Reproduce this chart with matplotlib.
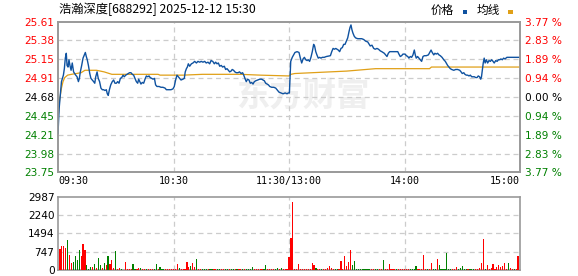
import matplotlib
matplotlib.use("Agg")
import matplotlib.pyplot as plt
import matplotlib.patches as mpatches

plt.rcParams["font.family"] = ["Noto Sans CJK SC", "DejaVu Sans"]

TITLE = "浩瀚深度[688292] 2025-12-12 15:30"
PREV_CLOSE = 24.68
PRICE_TICKS = [25.61, 25.38, 25.15, 24.91, 24.68, 24.45, 24.21, 23.98, 23.75]
PCT_LABELS = ["3.77 %", "2.83 %", "1.89 %", "0.94 %", "0.00 %", "0.94 %", "1.89 %", "2.83 %", "3.77 %"]
TIME_LABELS = ["09:30", "10:30", "11:30/13:00", "14:00", "15:00"]
TIME_POS = [0, 60, 120, 180, 240]
VOL_TICKS = [0, 747, 1494, 2240, 2987]

# price line (minute since open, price)
price_t = [0.0, 0.6, 1.8, 2.8, 3.3, 3.8, 4.3, 4.7, 5.2, 5.7, 6.2, 6.8, 7.4, 8.1, 9.2, 9.9,
           10.6, 11.1, 11.6, 12.3, 13.0, 13.7, 14.2, 14.7, 15.2, 15.8, 16.5, 17.1, 17.8, 18.5,
           19.1, 19.6, 20.3, 20.9, 21.6, 22.3, 23.0, 23.7, 24.4, 25.1, 25.6, 26.1, 26.7, 27.4,
           28.2, 28.9, 29.6, 30.3, 31.0, 31.7, 32.4, 33.1, 33.8, 34.4, 35.2, 35.8, 36.5, 37.2,
           37.9, 38.6, 39.3, 39.8, 40.7, 41.4, 41.9, 42.5, 43.1, 43.8, 44.5, 45.2, 45.9, 46.6,
           47.3, 47.9, 48.7, 49.4, 50.1, 50.7, 51.4, 52.5, 53.5, 54.5, 55.6, 56.3, 57.0, 57.7,
           58.7, 59.7, 60.4, 61.1, 61.8, 62.5, 63.2, 63.9, 64.9, 65.6, 66.1, 66.7, 67.2, 67.7,
           68.4, 69.3, 70.1, 71.0, 71.9, 72.7, 73.6, 74.4, 75.3, 76.2, 77.0, 77.9, 78.8, 79.5,
           80.4, 81.2, 81.9, 82.6, 83.3, 84.0, 84.8, 85.5, 86.4, 87.1, 87.8, 88.5, 89.2, 89.9,
           90.5, 91.2, 91.9, 92.6, 93.5, 94.3, 95.1, 95.9, 96.5, 97.1, 97.8, 98.5, 99.2, 99.9,
           100.6, 101.3, 102.0, 102.7, 103.7, 104.8, 105.8, 106.5, 107.2, 107.9, 108.6, 109.3,
           110.0, 111.0, 112.1, 113.1, 113.8, 114.8, 115.8, 116.9, 118.0, 119.0, 119.6, 120.2,
           120.9, 121.7, 122.4, 123.1, 124.2, 125.2, 125.9, 126.6, 127.3, 128.0, 128.7, 129.4,
           130.0, 130.7, 131.4, 132.1, 132.8, 133.3, 133.9, 134.5, 135.2, 135.9, 136.6, 137.3,
           138.3, 139.4, 140.4, 141.5, 142.2, 142.9, 143.6, 144.3, 144.9, 145.6, 146.3, 147.0,
           147.7, 148.4, 149.1, 149.8, 150.5, 151.2, 151.7, 152.2, 152.7, 153.2, 153.9, 154.6,
           155.7, 156.7, 157.8, 158.8, 159.8, 160.9, 161.4, 162.2, 163.1, 164.0, 164.8, 165.7,
           166.5, 167.4, 168.2, 168.8, 169.5, 170.2, 170.9, 171.6, 172.3, 174.4, 176.5, 177.1,
           177.8, 178.5, 179.2, 180.3, 181.0, 181.7, 182.3, 183.0, 183.7, 184.4, 185.1, 185.6,
           186.1, 186.8, 187.5, 188.2, 188.9, 189.6, 190.3, 191.3, 192.4, 193.1, 193.8, 194.4,
           195.2, 195.8, 196.5, 197.2, 197.9, 198.6, 199.5, 200.4, 201.2, 201.7, 202.4, 203.1,
           203.8, 204.5, 205.6, 206.6, 207.6, 208.7, 209.4, 210.0, 210.8, 211.4, 212.1, 212.8,
           213.5, 214.2, 214.9, 215.6, 216.3, 217.0, 217.7, 218.3, 219.0, 219.6, 220.0, 220.4,
           220.9, 221.4, 221.9, 222.5, 223.2, 223.9, 224.6, 225.3, 226.0, 226.6, 227.4, 228.1,
           228.8, 229.5, 230.1, 230.8, 231.5, 232.2, 233.2, 235.0, 237.4, 239.5]
price_v = [24.23, 24.54, 24.87, 24.95, 25.03, 25.16, 25.22, 25.07, 25.05, 25.14, 25.07, 25.01, 25.10, 24.99, 24.95, 24.93,
           24.87, 24.91, 24.99, 25.07, 25.16, 25.20, 25.23, 25.18, 25.14, 25.07, 24.97, 24.91, 24.89, 24.87,
           24.85, 24.93, 24.99, 24.91, 24.87, 24.79, 24.77, 24.77, 24.76, 24.77, 24.72, 24.70, 24.77, 24.83,
           24.87, 24.89, 24.85, 24.85, 24.87, 24.85, 24.91, 24.92, 24.95, 24.93, 24.95, 24.96, 24.97, 24.98,
           24.98, 24.96, 24.95, 24.92, 24.87, 24.85, 24.90, 24.87, 24.84, 24.86, 24.85, 24.90, 24.94, 24.93,
           24.94, 24.92, 24.91, 24.90, 24.91, 24.83, 24.81, 24.81, 24.80, 24.80, 24.79, 24.77, 24.77, 24.77,
           24.77, 24.78, 24.81, 24.89, 24.95, 24.93, 24.91, 24.89, 24.90, 24.91, 24.99, 25.03, 25.05, 25.09,
           25.06, 25.09, 25.10, 25.12, 25.10, 25.12, 25.11, 25.12, 25.11, 25.12, 25.10, 25.11, 25.09, 25.13,
           25.12, 25.09, 25.11, 25.09, 25.10, 25.06, 25.07, 25.05, 25.06, 25.02, 25.03, 25.01, 24.99, 25.00,
           25.02, 25.01, 24.99, 24.98, 24.98, 24.99, 24.97, 24.98, 24.95, 24.91, 24.87, 24.90, 24.89, 24.85,
           24.86, 24.84, 24.87, 24.88, 24.89, 24.90, 24.90, 24.89, 24.88, 24.85, 24.84, 24.83,
           24.81, 24.80, 24.80, 24.79, 24.77, 24.74, 24.73, 24.72, 24.73, 24.72, 24.73, 24.73,
           25.12, 25.17, 25.20, 25.23, 25.24, 25.23, 25.16, 25.10, 25.15, 25.17, 25.14, 25.13,
           25.14, 25.12, 25.17, 25.24, 25.33, 25.31, 25.24, 25.20, 25.16, 25.17, 25.16, 25.17,
           25.17, 25.18, 25.185, 25.19, 25.24, 25.28, 25.27, 25.28, 25.27, 25.26, 25.24, 25.28,
           25.29, 25.33, 25.33, 25.37, 25.41, 25.49, 25.54, 25.57, 25.51, 25.47, 25.43, 25.41,
           25.40, 25.40, 25.40, 25.39, 25.37, 25.36, 25.34, 25.31, 25.32, 25.28, 25.27, 25.28,
           25.27, 25.25, 25.24, 25.23, 25.22, 25.20, 25.18, 25.22, 25.24, 25.24, 25.24, 25.21,
           25.18, 25.19, 25.21, 25.21, 25.19, 25.18, 25.16, 25.18, 25.17, 25.20, 25.26, 25.20,
           25.16, 25.18, 25.16, 25.14, 25.12, 25.18, 25.19, 25.19, 25.20, 25.23, 25.26, 25.23,
           25.20, 25.22, 25.21, 25.22, 25.20, 25.19, 25.17, 25.14, 25.12, 25.10, 25.07, 25.05,
           25.03, 25.02, 25.01, 25.02, 25.02, 25.01, 24.99, 24.97, 24.98, 24.96, 24.95, 24.95,
           24.94, 24.95, 24.93, 24.93, 24.93, 24.92, 24.92, 24.94, 24.93, 24.90, 24.93, 25.01,
           25.10, 25.16, 25.10, 25.14, 25.10, 25.13, 25.12, 25.14, 25.12, 25.10, 25.13, 25.12,
           25.14, 25.14, 25.15, 25.14, 25.16, 25.15, 25.17, 25.17, 25.17, 25.17]

# average price line
avg_t = [0, 0.8, 1.8, 2.6, 3.5, 5, 7, 12, 14, 20, 24, 28, 40, 52, 53, 65, 75, 95, 105, 120,
         121, 123, 150, 155, 160, 165, 193, 194, 240]
avg_v = [24.40, 24.64, 24.79, 24.87, 24.92, 24.95, 24.96, 24.98, 25.01, 25.01, 24.99, 24.96, 24.96,
         24.96, 24.95, 24.95, 24.96, 24.96, 24.95, 24.94, 24.96, 24.97, 25.00, 25.01, 25.02, 25.03,
         25.03, 25.05, 25.05]

# volume per minute (index 0 = 09:30)
volume = [
    0, 869, 978, 978, 896, 1222, 611, 285, 326, 570, 407, 815, 570, 1059, 815, 204, 54, 136, 136, 244,
    95, 489, 204, 95, 285, 204, 570, 244, 407, 95, 774, 40, 81, 40, 0, 326, 40, 40, 40, 244,
    40, 40, 95, 95, 40, 40, 40, 40, 40, 40, 40, 244, 40, 122, 40, 40, 40, 40, 40, 40,
    40, 40, 244, 81, 40, 40, 40, 326, 136, 177, 285, 122, 448, 40, 40, 40, 40, 40, 40, 40,
    40, 40, 40, 40, 40, 40, 40, 40, 40, 40, 40, 40, 40, 40, 40, 40, 40, 40, 40, 40,
    40, 122, 40, 40, 40, 40, 40, 40, 204, 40, 40, 40, 40, 40, 81, 40, 81, 40, 40, 40,
    530, 1304, 2770, 40, 40, 244, 40, 40, 40, 40, 40, 40, 285, 204, 81, 40, 40, 40, 40, 40,
    95, 163, 81, 40, 40, 40, 40, 367, 40, 570, 163, 326, 815, 204, 367, 40, 40, 40, 40, 40,
    40, 40, 40, 40, 40, 40, 40, 40, 40, 407, 40, 40, 244, 40, 40, 40, 40, 40, 40, 40,
    40, 40, 40, 40, 40, 40, 163, 40, 40, 40, 611, 40, 40, 40, 285, 40, 40, 448, 204, 40,
    40, 40, 693, 40, 40, 40, 40, 122, 40, 81, 163, 40, 40, 40, 40, 40, 40, 40, 40, 81,
    285, 1263, 40, 204, 40, 81, 244, 40, 122, 204, 122, 163, 285, 40, 285, 81, 40, 40, 40, 570,
    0,
]
# bar colour per minute: r = up, g = down
vol_dir = "".join([
    "rrrrr" "grrgg" "ggrrr" "gggrg",
    "rggrg" "rgrrr" "grrgr" "rrrrg",
    "grrgr" "rgrrr" "ggrgg" "grrrr",
    "rrrgr" "rrrrg" "rrgrr" "gggrg",
    "grrgg" "rrggr" "ggrgr" "rgrgg",
    "ggrrr" "rrggr" "rrrgg" "rgrrr",
    "rrrrr" "rrrrr" "rrrrg" "rrgrr",
    "rrrrg" "grrrr" "rrrgg" "ggggg",
    "gggrr" "ggrrg" "rrrrr" "rgrrr",
    "rrrgg" "ggrrr" "rrgrr" "ggrgg",
    "ggggg" "rrrgg" "gggrg" "ggrrr",
    "rrgrr" "rrrrr" "rrrrg" "rrgrr",
    "r",
])

RED, GREEN = "#ff0000", "#008000"
BLUE, GOLD = "#0f52a0", "#e0a018"
FRAME, GRID = "#999999", "#cccccc"

fig = plt.figure(figsize=(5.78, 2.76), dpi=100)
ax = fig.add_axes([58 / 578, (276 - 172.3) / 276, 462 / 578, 150.6 / 276])
axv = fig.add_axes([58 / 578, 6 / 276, 462 / 578, 73.3 / 276])

# watermark
ax.text(0.53, 0.50, "东方财富", transform=ax.transAxes, ha="center", va="center",
        fontsize=24, fontweight="bold", color="#efefef", zorder=0)

ax.plot(avg_t, avg_v, color=GOLD, lw=0.9, zorder=3)
ax.plot(price_t, price_v, color=BLUE, lw=1.0, zorder=4)

ax.set_xlim(0, 240)
ax.set_ylim(PRICE_TICKS[-1], PRICE_TICKS[0])
ax.set_yticks(PRICE_TICKS)
ax.set_yticklabels([f"{p:.2f}" for p in PRICE_TICKS], fontsize=7.6, family="DejaVu Sans")
for lab, p in zip(ax.get_yticklabels(), PRICE_TICKS):
    lab.set_color(RED if p > PREV_CLOSE else (GREEN if p < PREV_CLOSE else "black"))
ax.set_xticks(TIME_POS)
ax.set_xticklabels(TIME_LABELS, fontsize=7.2, family="DejaVu Sans Mono")
xl = ax.get_xticklabels()
xl[0].set_ha("left")
xl[-1].set_ha("right")
ax.tick_params(length=0, pad=2.5)

ax2 = ax.twinx()
ax2.set_ylim(ax.get_ylim())
ax2.set_yticks(PRICE_TICKS)
ax2.set_yticklabels(PCT_LABELS, fontsize=7.6, family="DejaVu Sans")
for lab, p in zip(ax2.get_yticklabels(), PRICE_TICKS):
    lab.set_color(RED if p > PREV_CLOSE else (GREEN if p < PREV_CLOSE else "black"))
ax2.tick_params(length=0, pad=3.5)

for a in (ax, ax2, axv):
    for s in a.spines.values():
        s.set_color(FRAME)
        s.set_linewidth(1.2)

for p in PRICE_TICKS[1:-1]:
    ax.axhline(p, color=GRID, lw=0.9, ls=(0, (4, 3)), zorder=1)
for t in TIME_POS[1:-1]:
    ax.axvline(t, color=GRID, lw=0.9, ls=(0, (4, 3)), zorder=1)

# volume panel: thin crisp bars
cols = [RED if c == "r" else GREEN for c in vol_dir]
axv.bar(range(len(volume)), volume, width=0.6, color=cols, linewidth=0,
        antialiased=False, zorder=3)
axv.set_xlim(0, 240)
axv.set_ylim(0, VOL_TICKS[-1])
axv.set_yticks(VOL_TICKS)
axv.set_yticklabels([str(v) for v in VOL_TICKS], fontsize=7.6, family="DejaVu Sans")
axv.set_xticks([])
axv.tick_params(length=0, pad=2.5)
for v in VOL_TICKS[1:-1]:
    axv.axhline(v, color=GRID, lw=0.9, ls=(0, (4, 3)), zorder=1)
for t in TIME_POS[1:-1]:
    axv.axvline(t, color=GRID, lw=0.9, ls=(0, (4, 3)), zorder=1)

# title and legend
fig.text(59 / 578, 1 - 9 / 276, TITLE, fontsize=8.8, ha="left", va="center")
fig.text(431 / 578, 1 - 10 / 276, "价格", fontsize=8.4, ha="left", va="center")
fig.text(477 / 578, 1 - 10 / 276, "均线", fontsize=8.4, ha="left", va="center")
fig.patches.append(mpatches.Rectangle((463 / 578, 1 - 13.5 / 276), 4.5 / 578, 3.5 / 276,
                                      transform=fig.transFigure, color=BLUE, lw=0))
fig.patches.append(mpatches.Rectangle((508 / 578, 1 - 13.5 / 276), 4.5 / 578, 3.5 / 276,
                                      transform=fig.transFigure, color=GOLD, lw=0))

fig.savefig("out.png", dpi=100, facecolor="white")
